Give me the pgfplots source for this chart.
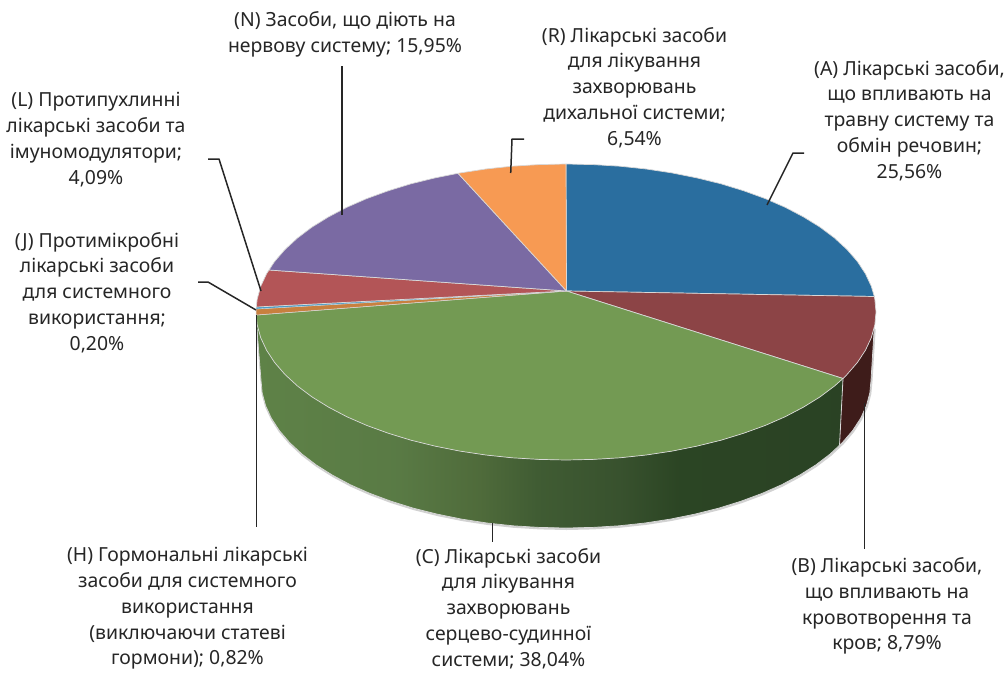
\documentclass[border=0pt]{standalone}
\usepackage{fontspec}
\setmainfont{Noto Sans}
\usepackage{pgfplots}
\usepackage{pgfplotstable}
\pgfplotsset{compat=1.18}

\definecolor{cA}{HTML}{2A6E9F}
\definecolor{cB}{HTML}{8C4446}
\definecolor{cC}{HTML}{739A53}
\definecolor{cH}{HTML}{C8803F}
\definecolor{cJ}{HTML}{4A9CC6}
\definecolor{cL}{HTML}{B35557}
\definecolor{cN}{HTML}{7A6AA3}
\definecolor{cR}{HTML}{F79A53}
\definecolor{cBside}{HTML}{3E1C1A}
\definecolor{rim}{HTML}{D8D8D8}
\definecolor{txt}{HTML}{262626}

\tikzset{
  lab/.style={align=center, text=txt, font=\fontsize{19.4}{25.8}\selectfont, inner sep=0pt},
  lead/.style={txt, line width=1.5pt},
}

% side of slice C, dark to the right; the bbox is mapped to 25bp..75bp
\pgfdeclarehorizontalshading{greenside}{100bp}{
  rgb(0bp)=(0.37,0.51,0.28);
  rgb(25bp)=(0.37,0.51,0.28);
  rgb(37bp)=(0.35,0.48,0.27);
  rgb(44bp)=(0.31,0.42,0.23);
  rgb(49bp)=(0.25,0.36,0.20);
  rgb(56bp)=(0.22,0.32,0.18);
  rgb(61bp)=(0.17,0.27,0.14);
  rgb(75bp)=(0.165,0.26,0.14);
  rgb(100bp)=(0.165,0.26,0.14)}

% pixel positions of the pie, y downwards
\pgfplotstableread{
x y
566.5 291
566 164
593 164.6
619.8 166.2
646.2 169
672 172.9
697 177.9
721 183.8
743.8 190.8
765.3 198.6
785.2 207.3
803.5 216.9
820 227.1
834.5 238
847 249.5
857.3 261.4
865.4 273.7
871.3 286.3
874.3 296.5
}\sliceA
\pgfplotstableread{
x y
566.5 291
874.3 296.5
874.8 299.1
876 312
874.8 324.9
871.3 337.7
865.4 350.3
857.3 362.6
847 374.5
843 378.5
}\sliceB
\pgfplotstableread{
x y
566.5 291
843 378.5
834.5 386
820 396.9
803.5 407.1
785.2 416.7
765.3 425.4
743.8 433.2
721 440.2
697 446.1
672 451.1
646.2 455
619.8 457.8
593 459.4
566 460
539 459.4
512.2 457.8
485.8 455
460 451.1
435 446.1
411 440.2
388.2 433.2
366.7 425.4
346.8 416.7
328.5 407.1
312 396.9
297.5 386
285 374.5
274.7 362.6
266.6 350.3
260.7 337.7
257.2 324.9
256.2 315
}\sliceC
\pgfplotstableread{
x y
566.5 291
256.2 315
256 312
256.1 309
}\sliceH
\pgfplotstableread{
x y
566.5 291
256.1 309
256.3 307
}\sliceJ
\pgfplotstableread{
x y
566.5 291
256.3 307
257.2 299.1
260.7 286.3
266.6 273.7
269 270
}\sliceL
\pgfplotstableread{
x y
566.5 291
269 270
274.7 261.4
285 249.5
297.5 238
312 227.1
328.5 216.9
346.8 207.3
366.7 198.6
388.2 190.8
411 183.8
435 177.9
458 173.3
}\sliceN
\pgfplotstableread{
x y
566.5 291
458 173.3
485.8 169
512.2 166.2
539 164.6
566 164
}\sliceR
\pgfplotstableread{
x y
843 378.5
847 374.5
857.3 362.6
865.4 350.3
871.3 337.7
874.2 328
871 380
869.8 392.9
866.4 405.7
860.6 418.3
852.6 430.6
842.4 442.5
839.5 445.5
}\sideB
\pgfplotstableread{
x y
256.2 315
257.2 324.9
260.7 337.7
266.6 350.3
274.7 362.6
285 374.5
297.5 386
312 396.9
328.5 407.1
346.8 416.7
366.7 425.4
388.2 433.2
411 440.2
435 446.1
460 451.1
485.8 455
512.2 457.8
539 459.4
566 460
593 459.4
619.8 457.8
646.2 455
672 451.1
697 446.1
721 440.2
743.8 433.2
765.3 425.4
785.2 416.7
803.5 407.1
820 396.9
834.5 386
843 378.5
839.5 445.5
830.1 454
815.8 464.9
799.6 475.1
781.7 484.7
762 493.4
741 501.2
718.5 508.2
694.9 514.1
670.3 519.1
644.9 523
618.9 525.8
592.6 527.4
566 528
539.4 527.4
513.1 525.8
487.1 523
461.7 519.1
437.1 514.1
413.5 508.2
391 501.2
370 493.4
350.3 484.7
332.4 475.1
316.2 464.9
301.9 454
289.6 442.5
279.4 430.6
271.4 418.3
265.6 405.7
262.2 392.9
261 380
}\sideC
\pgfplotstableread{
x y
874.2 328
871 380
869.8 392.9
866.4 405.7
860.6 418.3
852.6 430.6
842.4 442.5
830.1 454
815.8 464.9
799.6 475.1
781.7 484.7
762 493.4
741 501.2
718.5 508.2
694.9 514.1
670.3 519.1
644.9 523
618.9 525.8
592.6 527.4
566 528
539.4 527.4
513.1 525.8
487.1 523
461.7 519.1
437.1 514.1
413.5 508.2
391 501.2
370 493.4
350.3 484.7
332.4 475.1
316.2 464.9
301.9 454
289.6 442.5
279.4 430.6
271.4 418.3
265.6 405.7
262.2 392.9
261 380
257 330
}\loweredge

\begin{document}
\begin{tikzpicture}
\begin{axis}[
    scale only axis,
    width=1008pt,
    height=672pt,
    xmin=0, xmax=1008,
    ymin=0, ymax=672,
    y dir=reverse,
    hide axis,
    clip=false,
    every axis plot post/.append style={line join=round},
]
% keeps the page as large as the axis, a hidden axis adds nothing to the bbox
\addplot[draw=none] coordinates {(0,0) (1008,672)};

% shadow and sides
\addplot[gray!35, line width=2pt, xshift=0.5pt, yshift=-1pt] table {\loweredge};
\addplot[shade, shading=greenside, draw=none] table {\sideC} -- cycle;
\addplot[fill=cBside, draw=none] table {\sideB} -- cycle;
\addplot[rim, line width=0.7pt] table {\loweredge};
\addplot[rim, line width=0.8pt] coordinates {(843,378.5) (839.5,445.5)};

% top of the pie
\addplot[fill=cA, draw=rim, line width=0.7pt] table {\sliceA} -- cycle;
\addplot[fill=cB, draw=rim, line width=0.7pt] table {\sliceB} -- cycle;
\addplot[fill=cC, draw=rim, line width=0.7pt] table {\sliceC} -- cycle;
\addplot[fill=cH, draw=rim, line width=0.5pt] table {\sliceH} -- cycle;
\addplot[fill=cJ, draw=rim, line width=0.3pt] table {\sliceJ} -- cycle;
\addplot[fill=cL, draw=rim, line width=0.7pt] table {\sliceL} -- cycle;
\addplot[fill=cN, draw=rim, line width=0.7pt] table {\sliceN} -- cycle;
\addplot[fill=cR, draw=rim, line width=0.7pt] table {\sliceR} -- cycle;

% leader lines
\addplot[lead] coordinates {(804,153) (793,153) (767,205)};
\addplot[lead] coordinates {(864.3,403) (864.3,549)};
\addplot[lead] coordinates {(492.7,523) (492.7,542)};
\addplot[lead] coordinates {(256.5,315) (256.5,527)};
\addplot[lead] coordinates {(198,282) (208,282) (256,310)};
\addplot[lead] coordinates {(208,159) (219,159) (261,291)};
\addplot[lead] coordinates {(342,66) (342,215)};
\addplot[lead] coordinates {(524,139) (512,139) (510.7,173)};

% labels
\node[lab] at (axis cs:909.5,120.5) {(A) Лікарські засоби,\\що впливають на\\травну систему та\\обмін речовин;\\25,56\%};
\node[lab] at (axis cs:887,606) {(B) Лікарські засоби,\\що впливають на\\кровотворення та\\кров; 8,79\%};
\node[lab] at (axis cs:508.5,608.5) {(C) Лікарські засоби\\для лікування\\захворювань\\серцево-судинної\\системи; 38,04\%};
\node[lab] at (axis cs:187.5,608.5) {(H) Гормональні лікарські\\засоби для системного\\використання\\(виключаючи статеві\\гормони); 0,82\%};
\node[lab] at (axis cs:97,292.5) {(J) Протимікробні\\лікарські засоби\\для системного\\використання;\\0,20\%};
\node[lab] at (axis cs:96,139.5) {(L) Протипухлинні\\лікарські засоби та\\імуномодулятори;\\4,09\%};
\node[lab] at (axis cs:345,34.5) {(N) Засоби, що діють на\\нервову систему; 15,95\%};
\node[lab] at (axis cs:634.5,87.5) {(R) Лікарські засоби\\для лікування\\захворювань\\дихальної системи;\\6,54\%};
\end{axis}
\end{tikzpicture}
\end{document}
